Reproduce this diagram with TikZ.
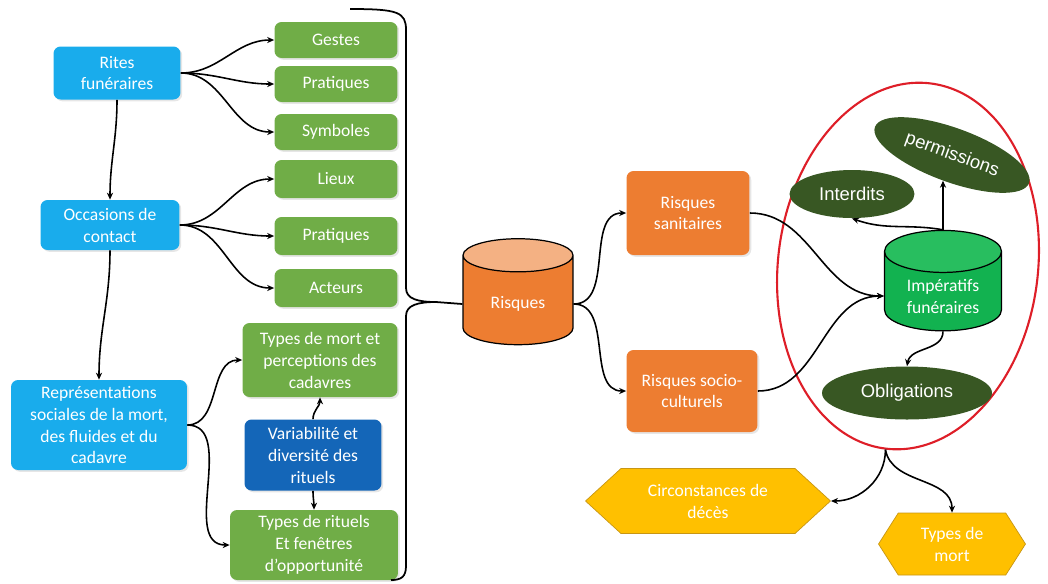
\documentclass[tikz,border=0pt]{standalone}
\usepackage{fontspec}
\setmainfont{Carlito}
\newfontfamily\arialfont{Liberation Sans}
\usetikzlibrary{shapes.geometric}
\usetikzlibrary{shapes.symbols}
\usetikzlibrary{arrows.meta}
\usetikzlibrary{shadows}
\definecolor{bleuC}{RGB}{25,172,236}
\definecolor{vertC}{RGB}{112,173,71}
\definecolor{bleuF}{RGB}{20,102,184}
\definecolor{orangeC}{RGB}{237,125,49}
\definecolor{orangeH}{RGB}{244,177,131}
\definecolor{vertCyl}{RGB}{18,178,80}
\definecolor{vertCylH}{RGB}{40,190,95}
\definecolor{vertF}{RGB}{56,87,35}
\definecolor{jauneC}{RGB}{255,192,0}
\definecolor{jauneB}{RGB}{200,150,20}
\definecolor{rougeC}{RGB}{222,30,40}
\tikzset{
  boite/.style={rectangle, rounded corners=4pt, text=white, align=center,
    font=\fontsize{10}{12.5}\selectfont, inner sep=2pt,
    drop shadow={shadow xshift=1pt, shadow yshift=-1pt, opacity=0.2}},
  bluebox/.style={boite, fill=bleuC},
  greenbox/.style={boite, fill=vertC},
  varbox/.style={boite, fill=bleuF},
  orangebox/.style={boite, fill=orangeC},
  cyl/.style={cylinder, shape border rotate=90, aspect=0.5, draw=black, line width=0.7pt,
    cylinder uses custom fill, text=white, align=center,
    font=\fontsize{10}{12.5}\selectfont},
  vertell/.style={ellipse, fill=vertF, text=white, inner sep=1pt,
    font=\arialfont\fontsize{10.5}{12}\selectfont},
  hexa/.style={signal, signal to=east and west, fill=jauneC, draw=jauneB,
    text=white, align=center, font=\fontsize{10}{12.5}\selectfont, inner sep=1pt},
  fleche/.style={-{Stealth[length=4pt,width=3.5pt]}, line width=0.9pt},
}
\begin{document}
\begin{tikzpicture}[x=0.02cm, y=-0.02cm]
	\useasboundingbox (0,0) rectangle (1048,583);
	% colonne de gauche
	\node[bluebox, minimum width=2.54cm, minimum height=1.06cm] (rites) at (117,73){Rites\\funéraires};
	\node[bluebox, minimum width=2.78cm, minimum height=1cm] (occasions) at (110,225){Occasions de\\contact};
	\node[bluebox, minimum width=3.52cm, minimum height=1.8cm] (representations) at (99,425){Représentations\\sociales de la mort,\\des fluides et du\\cadavre};
	% boites vertes
	\node[greenbox, minimum width=2.46cm, minimum height=0.72cm] (gestes) at (336,40){Gestes};
	\node[greenbox, minimum width=2.46cm, minimum height=0.72cm] (pratiquesA) at (336,84){Pratiques};
	\node[greenbox, minimum width=2.46cm, minimum height=0.72cm] (symboles) at (336,132){Symboles};
	\node[greenbox, minimum width=2.46cm, minimum height=0.76cm] (lieux) at (336,179){Lieux};
	\node[greenbox, minimum width=2.46cm, minimum height=0.76cm] (pratiquesB) at (336,236){Pratiques};
	\node[greenbox, minimum width=2.46cm, minimum height=0.76cm] (acteurs) at (336,288){Acteurs};
	\node[greenbox, minimum width=3.1cm, minimum height=1.48cm] (typesmort) at (320,360){Types de mort et\\perceptions des\\cadavres};
	\node[varbox, minimum width=2.74cm, minimum height=1.42cm] (variabilite) at (313,455){Variabilité et\\diversité des\\rituels};
	\node[greenbox, minimum width=3.36cm, minimum height=1.4cm] (typesrituels) at (314,545){Types de rituels\\Et fenêtres\\d’opportunité};
	% risques
	\node[cyl, cylinder body fill=orangeC, cylinder end fill=orangeH,
	  minimum width=2.2cm, minimum height=2.12cm] (risques) at (518,304){Risques};
	\node[orangebox, minimum width=2.46cm, minimum height=1.68cm] (sanitaires) at (688,213){Risques\\sanitaires};
	\node[orangebox, minimum width=2.62cm, minimum height=1.64cm] (socio) at (692,391){Risques socio-\\culturels};
	% impératifs
	\node[ellipse, draw=rougeC, line width=1.2pt, rotate=-7,
	  minimum width=5.2cm, minimum height=7.36cm] (cadre) at (908,266){};
	\node[cyl, cylinder body fill=vertCyl, cylinder end fill=vertCylH,
	  minimum width=2.34cm, minimum height=1.78cm] (imperatifs) at (943,296){Impératifs\\funéraires};
	\node[vertell, minimum width=2.5cm, minimum height=0.96cm] (interdits) at (852,194){Interdits};
	\node[vertell, rotate=-20, minimum width=3.28cm, minimum height=1.08cm] (permissions) at (952,155){permissions};
	\node[vertell, minimum width=3.4cm, minimum height=1.06cm] (obligations) at (907,393){Obligations};
	% bas
	\node[hexa, signal pointer angle=85, minimum width=4.9cm, minimum height=1.3cm] (circonstances) at (708,501){Circonstances de\\décès};
	\node[hexa, signal pointer angle=115, minimum width=2.94cm, minimum height=1.24cm] (typesdemort) at (952,544){Types de\\mort};
	% accolade
	\coordinate (accolade) at (436,302);
	\draw[line width=1pt] (350,9) .. controls (398,9) and (406,12) .. (406,30) -- (406,288)
	  .. controls (406,299) and (418,302) .. (accolade)
	  .. controls (418,302) and (406,305) .. (406,316) -- (406,566)
	  .. controls (406,577) and (401,580) .. (391,580);
	\draw[line width=1pt] (accolade) -- (risques.west);
	% fleches
	\draw[fleche] (rites.east) to[out=0,in=180] (gestes.west);
	\draw[fleche] (rites.east) to[out=0,in=180] (pratiquesA.west);
	\draw[fleche] (rites.east) to[out=0,in=180] (symboles.west);
	\draw[fleche] (occasions.east) to[out=0,in=180] (lieux.west);
	\draw[fleche] (occasions.east) to[out=0,in=180] (pratiquesB.west);
	\draw[fleche] (occasions.east) to[out=0,in=180] (acteurs.west);
	\draw[fleche] (rites.south) to[out=-90,in=90] (occasions.north);
	\draw[fleche] (occasions.south) to[out=-90,in=90] (representations.north);
	\draw[fleche] (representations.east) to[out=0,in=180] (typesmort.west);
	\draw[fleche] (representations.east) to[out=0,in=180] (typesrituels.west);
	\draw[fleche] (variabilite.north) to[out=90,in=-90] (typesmort.south);
	\draw[fleche] (variabilite.south) to[out=-90,in=90] (typesrituels.north);
	\draw[fleche] (risques.east) to[out=0,in=180] (sanitaires.west);
	\draw[fleche] (risques.east) to[out=0,in=180] (socio.west);
	\draw[fleche] (sanitaires.east) to[out=0,in=180] (imperatifs.west);
	\draw[fleche] (socio.east) to[out=0,in=180] (imperatifs.west);
	\draw[fleche] (imperatifs.north) -- (imperatifs.north |- permissions.south);
	\draw[fleche] (imperatifs.north) to[out=170,in=-20] (interdits.south);
	\draw[fleche] (imperatifs.south) to[out=-90,in=80] (obligations.north);
	\draw[fleche] (cadre.south) to[out=-90,in=0] (circonstances.east);
	\draw[fleche] (cadre.south) to[out=-80,in=90] (typesdemort.north);
\end{tikzpicture}
\end{document}
